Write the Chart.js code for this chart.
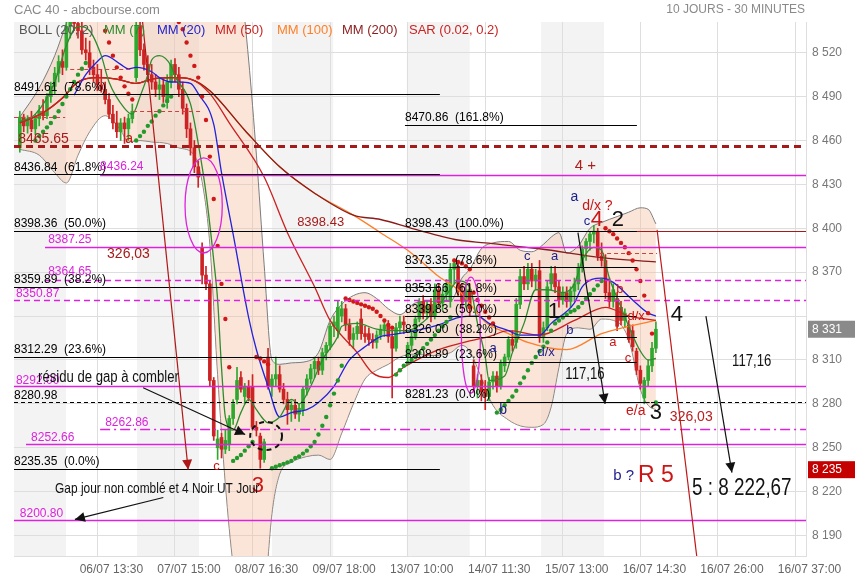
<!DOCTYPE html>
<html>
<head>
<meta charset="utf-8">
<script src="https://cdn.jsdelivr.net/npm/chart.js@4"></script>
<style>html,body{margin:0;padding:0;background:#fff}</style>
</head>
<body>
<canvas id="cac" width="855" height="580"></canvas>
<script>
Chart.defaults.font.family = "'Liberation Sans', Arial, sans-serif";
Chart.defaults.font.size = 12;
const SANS = "'Liberation Sans', Arial, sans-serif";

// axes
const xLabels = ['06/07 13:30','07/07 15:00','08/07 16:30','09/07 18:00','13/07 10:00','14/07 11:30','15/07 13:00','16/07 14:30','16/07 26:00','16/07 37:00'];
const xTickIdx = [20,40,60,80,100,120,140,160,180,200];
const priceTicks = [8190,8220,8250,8280,8310,8340,8370,8400,8430,8460,8490,8520];

// bougies 30 min (index 0..164)
const opens = [
 8455,8476,8470,8474,8468,8475,8480,8477,8490,8497, 8506,8514,8510,8538,8545,8540,8535,8522,8520,8510,
 8505,8498,8495,8488,8478,8472,8466,8472,8468,8475, 8503,8538,8522,8512,8505,8500,8495,8498,8486,8500,
 8512,8505,8495,8482,8468,8455,8442,8387,8368,8362, 8296,8250,8257,8249,8252,8270,8283,8298,8285,8292,
 8292,8264,8258,8242,8312,8292,8297,8300,8290,8283, 8276,8279,8273,8276,8290,8297,8304,8309,8303,8315,
 8320,8333,8330,8340,8345,8334,8324,8328,8338,8328, 8328,8324,8322,8327,8331,8334,8326,8318,8332,8336,
 8312,8320,8326,8338,8350,8342,8348,8340,8358,8349, 8355,8350,8372,8374,8357,8350,8358,8306,8292,8296,
 8290,8285,8295,8299,8292,8306,8312,8324,8322,8348, 8367,8362,8372,8364,8371,8326,8332,8362,8369,8360,
 8351,8356,8350,8357,8362,8373,8386,8391,8396,8398, 8381,8378,8356,8350,8352,8346,8337,8334,8330,8316,
 8303,8284,8296,8306,8318];
const highs = [
 8480,8478,8477,8480,8478,8484,8488,8492,8500,8510, 8518,8522,8545,8552,8556,8552,8545,8530,8528,8515,
 8512,8508,8500,8492,8484,8480,8475,8476,8478,8485, 8545,8545,8526,8518,8512,8505,8502,8503,8505,8515,
 8516,8510,8500,8485,8472,8460,8446,8390,8374,8364, 8298,8262,8260,8262,8272,8283,8305,8302,8294,8296,
 8300,8268,8260,8256,8318,8300,8312,8306,8294,8288, 8282,8283,8280,8292,8300,8307,8312,8312,8318,8322,
 8335,8340,8350,8350,8348,8338,8332,8336,8345,8333, 8332,8328,8330,8334,8336,8337,8330,8335,8340,8340,
 8322,8330,8340,8352,8354,8350,8352,8362,8362,8358, 8365,8376,8379,8376,8362,8362,8362,8310,8300,8300,
 8296,8298,8302,8302,8310,8314,8326,8330,8352,8372, 8374,8376,8376,8372,8378,8336,8364,8374,8374,8364,
 8360,8360,8360,8366,8376,8388,8393,8398,8402,8400, 8390,8382,8366,8362,8356,8350,8345,8337,8334,8318,
 8306,8298,8310,8322,8336];
const lows = [
 8452,8466,8465,8466,8464,8470,8474,8475,8486,8492, 8500,8505,8508,8530,8535,8530,8519,8515,8505,8500,
 8494,8493,8485,8475,8468,8462,8460,8458,8460,8472, 8500,8518,8508,8500,8495,8490,8488,8486,8482,8496,
 8500,8490,8478,8462,8450,8438,8428,8362,8358,8292, 8255,8242,8243,8246,8248,8266,8280,8288,8280,8282,
 8262,8258,8236,8240,8290,8285,8292,8288,8280,8266, 8268,8270,8268,8272,8286,8294,8298,8300,8300,8310,
 8317,8326,8325,8336,8330,8320,8318,8324,8324,8322, 8320,8318,8318,8324,8326,8322,8284,8316,8328,8328,
 8308,8316,8324,8336,8338,8338,8336,8338,8346,8344, 8350,8346,8362,8354,8346,8346,8340,8288,8284,8282,
 8276,8282,8290,8288,8290,8302,8310,8316,8318,8345, 8358,8358,8360,8358,8322,8322,8330,8358,8356,8346,
 8348,8346,8346,8350,8358,8370,8378,8385,8390,8378, 8374,8352,8346,8346,8330,8334,8332,8322,8316,8300,
 8290,8280,8292,8302,8315];
const closes = [
 8476,8470,8474,8468,8475,8480,8477,8490,8497,8506, 8514,8510,8538,8545,8540,8535,8522,8520,8510,8505,
 8498,8495,8488,8478,8472,8466,8472,8468,8475,8480, 8538,8522,8512,8505,8500,8495,8498,8490,8500,8512,
 8505,8495,8482,8468,8455,8442,8435,8368,8362,8296, 8258,8256,8249,8255,8270,8280,8296,8290,8292,8284,
 8264,8262,8242,8254,8292,8297,8300,8290,8283,8276, 8279,8273,8277,8290,8297,8304,8309,8303,8315,8320,
 8333,8336,8346,8345,8334,8324,8328,8333,8328,8326, 8324,8322,8327,8331,8334,8326,8318,8332,8336,8334,
 8320,8326,8338,8350,8342,8347,8340,8358,8349,8355, 8362,8372,8376,8357,8350,8358,8345,8292,8296,8288,
 8285,8295,8299,8292,8308,8312,8324,8320,8348,8367, 8362,8372,8364,8368,8326,8332,8360,8369,8360,8351,
 8356,8350,8357,8362,8373,8386,8391,8396,8398,8381, 8378,8356,8350,8358,8333,8337,8342,8324,8319,8303,
 8294,8296,8306,8318,8331];

// SAR (0.02, 0.2)
const sarValues = [
 null,null,null,null,
 8460,8463,8466,8469,8472,8476,8480,8485,8490,8495,8500,8505,8509,8513,
 8555,8552,8548,8543,8535,8527,8518,8510,8503,8497,8492,8488,
 8460,8463,8466,8470,8473,8477,8480,8484,8487,8490,
 8545,8541,8536,8527,8518,8511,8503,8490,8474,8449,8420,8388,8362,8338,8305,
 8241,8243,8245,8248,8251,8254,
 8312,8311,8309,8307,
 8236,8237,8238,8239,8240,8241,8243,8244,8246,8248,8251,8254,8259,8265,8271,8279,8287,8296,8306,
 8352,8351,8350,8349,8348,8347,8346,8345,8343,8340,8337,8334,8332,
 8300,8303,8306,8308,8310,8312,8315,8318,8321,8324,8327,8330,8333,8336,8339,
 8378,8377,8376,8374,8372,8356,8351,8347,8343,8339,8335,
 8274,8276,8279,8282,8285,8289,8294,8298,8303,8308,8312,8316,8319,8322,8330,8335,8337,8339,8341,8343,8344,8346,8349,8352,8355,8358,8361,8364,
 8400,8398,8396,8393,8390,8387,8383,8378,8372,8364,8354,8342,8328,
 8281];
const sarFlips = [[4,'g'],[18,'r'],[30,'g'],[40,'r'],[55,'g'],[61,'r'],[65,'g'],[84,'r'],[97,'g'],[112,'r'],[123,'g'],[151,'r'],[164,'g']];

// Bollinger (20, 2)
const bandIdx = [0,5,9,12,15,18,22,26,28,31,34,38,41,45,47,49,51,53,55,57,59,61,63,65,67,70,74,77,80,83,86,89,92,95,98,102,106,111,114,116,119,122,126,129,132,135,137,139,141,144,147,150,154,157,160,162,164];
const bollUpper = [8476,8496,8518,8540,8560,8570,8575,8575,8575,8580,8580,8580,8585,8590,8595,8600,8600,8595,8585,8565,8515,8450,8375,8310,8307,8308,8309,8315,8337,8348,8354,8356,8352,8345,8341,8349,8350,8350,8366,8372,8386,8390,8391,8385,8384,8389,8394,8397,8383,8388,8400,8404,8408,8411,8414,8413,8403];
const bollLower = [8454,8450,8438,8431,8450,8466,8477,8467,8459,8460,8459,8458,8455,8450,8432,8389,8300,8225,8170,8140,8125,8125,8145,8205,8232,8240,8244,8245,8242,8260,8280,8297,8303,8307,8312,8314,8313,8315,8320,8316,8298,8279,8269,8265,8264,8266,8278,8305,8328,8332,8331,8338,8336,8324,8290,8279,8276];

// moyennes mobiles
const mm7Idx = [0,4,9,12,15,18,21,23,27,29,31,33,34,36,39,40,44,46,48,50,51,52,53,55,57,59,61,63,64,67,70,72,75,78,82,83,87,92,95,100,104,108,111,113,116,118,120,121,125,127,130,133,136,140,143,145,148,150,152,155,157,160,162,164];
const mm7Val = [8473,8478,8500,8525,8538,8535,8518,8500,8482,8478,8490,8505,8515,8518,8511,8504,8485,8458,8424,8378,8351,8305,8271,8262,8274,8283,8276,8269,8267,8271,8283,8280,8292,8310,8326,8333,8335,8331,8330,8330,8336,8347,8358,8364,8360,8335,8312,8296,8299,8315,8335,8358,8358,8356,8362,8378,8387,8385,8366,8346,8333,8316,8310,8311];
const mm20Idx = [14,17,20,22,26,28,30,34,36,39,41,44,46,50,52,55,59,61,64,67,70,74,77,81,85,89,93,95,100,108,113,118,121,126,129,134,137,143,145,150,153,158,162,164];
const mm20Val = [8491,8505,8514,8518,8512,8509,8510,8507,8503,8500,8500,8499,8492,8471,8438,8396,8339,8317,8292,8271,8274,8276,8281,8292,8310,8319,8326,8327,8329,8334,8339,8340,8335,8330,8327,8327,8335,8349,8360,8366,8363,8351,8342,8340];
const mm50Idx = [0,6,11,15,20,25,30,34,40,44,49,54,63,69,76,80,87,91,95,99,108,116,121,126,134,143,151,157,164];
const mm50Val = [8472,8479,8489,8500,8503,8502,8499,8502,8503,8502,8492,8472,8435,8397,8360,8337,8315,8301,8298,8305,8317,8323,8326,8330,8327,8337,8346,8340,8337];
const mm100Idx = [0,6,11,15,20,25,30,34,40,44,49,58,67,76,86,93,101,108,113,120,126,131,141,150,157,164];
const mm100Val = [8472,8479,8489,8500,8503,8502,8499,8502,8503,8502,8494,8467,8442,8424,8409,8397,8383,8367,8358,8336,8328,8322,8317,8328,8333,8337];
const mm200Idx = [0,6,11,15,20,25,30,34,40,44,49,58,67,76,86,93,101,108,113,120,134,150,164];
const mm200Val = [8472,8479,8489,8500,8503,8502,8499,8502,8503,8502,8494,8467,8442,8424,8409,8406,8400,8395,8392,8390,8386,8380,8377];

// jours alternés (fond gris)
const dayBands = [[-1.5,11.9],[30.2,46.2],[65,80.8],[99.8,116],[134.4,150.6]];

const X0 = -1.5, X1 = 202.7;
const MAG = '#dd22dd', DRED = '#a51a1a', RED = '#cc1515', NAVY = '#1c1c8a';

// niveaux horizontaux : valeur, début, fin, couleur, épaisseur, tirets
const levelLines = [
 [8476, X0, 11.7, '#d04040', 1, [4,3]],
 [8509, 13, 29.2, '#d04040', 1, [4,3]],
 [8480, 29.2, 46.5, '#d04040', 1, [4,3]],
 [8383, 149.6, 164.3, '#d04040', 1, [4,3]],
 [8436.24, 20.7, X1, MAG, 1.3, []],
 [8387.25, 6.5, X1, MAG, 1.3, []],
 [8364.65, 6.5, X1, MAG, 1.3, [6,4]],
 [8350.87, X0, X1, MAG, 1.3, [6,4]],
 [8292.00, X0, X1, MAG, 1.3, []],
 [8262.86, 20.7, X1, MAG, 1.3, [10,4,2,4]],
 [8252.66, 1.6, X1, MAG, 1.3, []],
 [8200.80, X0, X1, MAG, 1.3, []],
 [8398.43, 69.7, X1, DRED, 1.2, []],
 [8456.5, X0, X1, DRED, 3, [7,5]],
 [8280.98, X0, X1, '#000', 1, [4,3]],
 [8491.61, X0, 108.3, '#000', 1, []],
 [8436.84, X0, 108.3, '#000', 1, []],
 [8398.36, X0, 108.3, '#000', 1, []],
 [8359.89, X0, 108.3, '#000', 1, []],
 [8312.29, X0, 108.3, '#000', 1, []],
 [8235.35, X0, 108.3, '#000', 1, []],
 [8470.86, 99.3, 159.1, '#000', 1, []],
 [8398.43, 99.3, 159.1, '#000', 1, []],
 [8373.35, 99.3, 159.1, '#000', 1, []],
 [8353.66, 99.3, 159.1, '#000', 1, []],
 [8339.83, 99.3, 159.1, '#000', 1, []],
 [8326.00, 99.3, 159.1, '#000', 1, []],
 [8308.89, 99.3, 159.1, '#000', 1, []],
 [8281.23, 99.3, 162.4, '#000', 1, []]
];
const fibLabels = [
 [8491.61, X0, '8491.61  (78.6%)'], [8436.84, X0, '8436.84  (61.8%)'], [8398.36, X0, '8398.36  (50.0%)'],
 [8359.89, X0, '8359.89  (38.2%)'], [8312.29, X0, '8312.29  (23.6%)'], [8280.98, X0, '8280.98'],
 [8235.35, X0, '8235.35  (0.0%)'],
 [8470.86, 99.3, '8470.86  (161.8%)'], [8398.43, 99.3, '8398.43  (100.0%)'], [8373.35, 99.3, '8373.35  (78.6%)'],
 [8353.66, 99.3, '8353.66  (61.8%)'], [8339.83, 99.3, '8339.83  (50.0%)'], [8326.00, 99.3, '8326.00  (38.2%)'],
 [8308.89, 99.3, '8308.89  (23.6%)'], [8281.23, 99.3, '8281.23  (0.0%)']
];
const magentaLabels = [
 ['8436.24', 20.7, 8442], ['8387.25', 7.3, 8392], ['8364.65', 7.3, 8370], ['8350.87', -1, 8355],
 ['8292.00', -1, 8296], ['8262.86', 22, 8267], ['8252.66', 2.9, 8257], ['8200.80', 0, 8205]
];
// texte, index, valeur, couleur, taille, étroit, alignement
const notes = [
 ['8465.65', -0.4, 8461, DRED, 14, false, 'left'],
 ['326,03', 22.5, 8382, DRED, 14, false, 'left'],
 ['326,03', 167.6, 8271, '#b82020', 14, false, 'left'],
 ['8398.43', 71.5, 8404, DRED, 13, false, 'left'],
 ['4 +', 143.1, 8443, '#b01c1c', 15, false, 'left'],
 ['a', 27.2, 8461, RED, 14, false, 'left'],
 ['c', 49.9, 8237, RED, 13, false, 'left'],
 ['3', 61.4, 8224, RED, 22, false, 'center'],
 ['a', 142, 8421, NAVY, 14, false, 'left'],
 ['d/x ?', 145, 8415, RED, 14, false, 'left'],
 ['c', 145.4, 8405, NAVY, 13, false, 'left'],
 ['4', 148.8, 8406, RED, 22, false, 'center'],
 ['2', 154.2, 8406, '#111', 22, false, 'center'],
 ['c', 130.8, 8381, NAVY, 13, false, 'center'],
 ['a', 137.9, 8381, NAVY, 13, false, 'center'],
 ['1', 137.7, 8343, '#111', 22, false, 'center'],
 ['b', 141.8, 8330, NAVY, 13, false, 'center'],
 ['d/x', 135.7, 8315, NAVY, 13, false, 'center'],
 ['a', 122, 8318, NAVY, 13, false, 'center'],
 ['b', 124.6, 8276, NAVY, 14, false, 'center'],
 ['b', 154.7, 8358, RED, 13, false, 'center'],
 ['d/x', 158.9, 8340, RED, 13, false, 'center'],
 ['a', 152.9, 8322, RED, 13, false, 'center'],
 ['c', 156.8, 8311, RED, 13, false, 'center'],
 ['e/a', 158.8, 8275, RED, 14, false, 'center'],
 ['3', 164, 8274, '#111', 22, false, 'center'],
 ['117,16', 145.7, 8300, '#111', 16, true, 'center'],
 ['117,16', 188.7, 8309, '#111', 16, true, 'center'],
 ['4', 169.4, 8341, '#111', 22, false, 'center'],
 ['b ?', 153, 8231, NAVY, 15, false, 'left'],
 ['R 5', 159.4, 8231, RED, 23, false, 'left'],
 ['5 : 8 222,67', 173.3, 8222, '#111', 23, true, 'left'],
 ['résidu de gap à combler', 4.7, 8298, '#111', 16, true, 'left'],
 ['Gap jour non comblé et 4 Noir UT Jour', 9.1, 8222, '#111', 14.5, true, 'left']
];
// flèches : de (index, valeur) vers (index, valeur), couleur, pointe
const arrows = [
 [31.8, 8291, 58.1, 8259, '#111', true],
 [37, 8216, 14.2, 8201, '#111', true],
 [31.5, 8545, 43.4, 8235, '#b01818', true],
 [143.9, 8397, 150.9, 8280, '#111', true],
 [176.9, 8340, 183.6, 8233, '#111', true],
 [164.3, 8399, 174.8, 8170, '#c01818', false]
];
// ellipses : centre index, valeur, rayon index, rayon valeur, couleur, tirets
const ellipses = [
 [47.4, 8415.6, 4.8, 32.5, MAG, []],
 [116.3, 8327, 2.45, 39.6, MAG, []],
 [63.5, 8258, 4.1, 9.6, '#111', [5,4]]
];

const idx = opens.map((_, i) => i);
const candleColor = idx.map(i => closes[i] >= opens[i] ? '#2fa82f' : '#cc2424');
const sideOf = i => { let s = null; sarFlips.forEach(([k, c]) => { if (i >= k) s = c; }); return s; };
const sarGreen = idx.filter(i => sarValues[i] !== null && sideOf(i) === 'g').map(i => ({x: i, y: sarValues[i]}));
const sarRed = idx.filter(i => sarValues[i] !== null && sideOf(i) === 'r').map(i => ({x: i, y: sarValues[i]}));
const pts = (xs, ys) => xs.map((x, k) => ({x, y: ys[k]}));
const maLine = (label, xs, ys, color, order) => ({
  type: 'line', label, data: pts(xs, ys), borderColor: color, borderWidth: 1.3,
  pointRadius: 0, tension: 0.3, cubicInterpolationMode: 'monotone', fill: false, order
});

function arrowHead(ctx, x1, y1, x2, y2) {
  const a = Math.atan2(y2 - y1, x2 - x1), L = 10, W = 5;
  ctx.beginPath();
  ctx.moveTo(x2, y2);
  ctx.lineTo(x2 - L * Math.cos(a) + W * Math.sin(a), y2 - L * Math.sin(a) - W * Math.cos(a));
  ctx.lineTo(x2 - L * Math.cos(a) - W * Math.sin(a), y2 - L * Math.sin(a) + W * Math.cos(a));
  ctx.closePath();
  ctx.fill();
}

const overlay = {
  id: 'overlay',
  beforeDraw(chart) {
    const {ctx, chartArea: a, scales: {x}} = chart;
    ctx.save();
    ctx.fillStyle = '#f3f3f3';
    dayBands.forEach(([s, e]) => {
      const x1 = Math.max(a.left, x.getPixelForValue(s));
      const x2 = Math.min(a.right, x.getPixelForValue(e));
      ctx.fillRect(x1, a.top, x2 - x1, a.bottom - a.top);
    });
    ctx.restore();
  },
  afterDatasetsDraw(chart) {
    const {ctx, chartArea: a, scales: {x, y}} = chart;
    ctx.save();
    ctx.beginPath();
    ctx.rect(a.left, a.top, a.right - a.left, a.bottom - a.top);
    ctx.clip();
    levelLines.forEach(([v, f, t, c, w, d]) => {
      const yy = Math.round(y.getPixelForValue(v)) + 0.5;
      ctx.strokeStyle = c; ctx.lineWidth = w; ctx.setLineDash(d);
      ctx.beginPath();
      ctx.moveTo(x.getPixelForValue(f), yy);
      ctx.lineTo(x.getPixelForValue(t), yy);
      ctx.stroke();
    });
    ctx.setLineDash([]);
    ellipses.forEach(([ci, cv, ri, rv, c, d]) => {
      const cx = x.getPixelForValue(ci), cy = y.getPixelForValue(cv);
      const rx = x.getPixelForValue(ci + ri) - cx, ry = cy - y.getPixelForValue(cv + rv);
      ctx.strokeStyle = c; ctx.lineWidth = d.length ? 2 : 1.3; ctx.setLineDash(d);
      ctx.beginPath(); ctx.ellipse(cx, cy, rx, ry, 0, 0, Math.PI * 2); ctx.stroke();
    });
    ctx.setLineDash([]);
    arrows.forEach(([i1, v1, i2, v2, c, head]) => {
      const x1 = x.getPixelForValue(i1), y1 = y.getPixelForValue(v1);
      const x2 = x.getPixelForValue(i2), y2 = y.getPixelForValue(v2);
      ctx.strokeStyle = c; ctx.fillStyle = c; ctx.lineWidth = 1.2;
      ctx.beginPath(); ctx.moveTo(x1, y1); ctx.lineTo(x2, y2); ctx.stroke();
      if (head) arrowHead(ctx, x1, y1, x2, y2);
    });
    ctx.restore();

    ctx.save();
    ctx.textBaseline = 'bottom';
    ctx.textAlign = 'left';
    ctx.font = '12px ' + SANS;
    ctx.fillStyle = '#000';
    fibLabels.forEach(([v, f, t]) => {
      ctx.fillText(t, Math.max(a.left, x.getPixelForValue(f)), y.getPixelForValue(v) - 1);
    });
    ctx.textBaseline = 'middle';
    ctx.fillStyle = MAG;
    magentaLabels.forEach(([t, i, v]) => ctx.fillText(t, x.getPixelForValue(i), y.getPixelForValue(v)));
    notes.forEach(([t, i, v, c, s, narrow, al]) => {
      ctx.save();
      ctx.font = s + 'px ' + SANS;
      ctx.fillStyle = c; ctx.textAlign = al;
      ctx.translate(x.getPixelForValue(i), y.getPixelForValue(v));
      if (narrow) ctx.scale(0.82, 1);
      ctx.fillText(t, 0, 0);
      ctx.restore();
    });
    ctx.restore();
  },
  afterDraw(chart) {
    const {ctx, chartArea: a, scales: {y}} = chart;
    ctx.save();
    ctx.textBaseline = 'middle';
    ctx.font = '13px ' + SANS;
    ctx.fillStyle = '#8a8a8a';
    ctx.textAlign = 'left';
    ctx.fillText('CAC 40 - abcbourse.com', 14, 10);
    ctx.font = '12px ' + SANS;
    ctx.textAlign = 'right';
    ctx.fillText('10 JOURS - 30 MINUTES', 805, 10);
    ctx.textAlign = 'left';
    ctx.font = '13px ' + SANS;
    [['BOLL (20, 2)', '#555', 19], ['MM (7)', '#2e8b2e', 104], ['MM (20)', '#2222cc', 157],
     ['MM (50)', '#cc2222', 215], ['MM (100)', '#ff7f27', 277], ['MM (200)', '#8b1c1c', 342],
     ['SAR (0.02, 0.2)', '#cc2222', 409]].forEach(([t, c, px]) => {
      ctx.fillStyle = c; ctx.fillText(t, px, a.top + 8);
    });
    [[8331, '#8a8a8a'], [8235, '#c40000']].forEach(([v, bg]) => {
      const yy = y.getPixelForValue(v);
      ctx.fillStyle = bg;
      ctx.fillRect(a.right + 2, yy - 8.5, 855 - a.right - 2, 17);
      ctx.fillStyle = '#fff';
      ctx.font = '12px ' + SANS;
      ctx.fillText(String(v).replace(/\B(?=(\d{3})+(?!\d))/g, ' '), a.right + 6, yy);
    });
    ctx.restore();
  }
};

new Chart(document.getElementById('cac'), {
  type: 'bar',
  data: {
    datasets: [
      {type: 'line', label: 'SAR haut', data: sarGreen, showLine: false, pointRadius: 2.2,
       pointBackgroundColor: '#23992b', pointBorderWidth: 0, order: 0},
      {type: 'line', label: 'SAR bas', data: sarRed, showLine: false, pointRadius: 2.2,
       pointBackgroundColor: '#d01818', pointBorderWidth: 0, order: 0},
      maLine('MM (7)', mm7Idx, mm7Val, '#2e8b2e', 1),
      maLine('MM (20)', mm20Idx, mm20Val, '#2222dd', 1),
      maLine('MM (50)', mm50Idx, mm50Val, '#cc2020', 2),
      maLine('MM (200)', mm200Idx, mm200Val, '#8b1c1c', 2),
      maLine('MM (100)', mm100Idx, mm100Val, '#ff7f27', 3),
      {type: 'bar', label: 'corps', data: idx.map(i => ({x: i, y: [opens[i], closes[i]]})),
       backgroundColor: candleColor, barThickness: 3, minBarLength: 1, grouped: false, order: 4},
      {type: 'bar', label: 'mèches', data: idx.map(i => ({x: i, y: [lows[i], highs[i]]})),
       backgroundColor: candleColor, barThickness: 1, grouped: false, order: 5},
      {type: 'line', label: 'BOLL haut', data: pts(bandIdx, bollUpper), borderColor: '#7c7c7c', borderWidth: 1,
       pointRadius: 0, tension: 0.3, cubicInterpolationMode: 'monotone',
       fill: '+1', backgroundColor: 'rgba(245,190,160,0.4)', order: 6},
      {type: 'line', label: 'BOLL bas', data: pts(bandIdx, bollLower), borderColor: '#7c7c7c', borderWidth: 1,
       pointRadius: 0, tension: 0.3, cubicInterpolationMode: 'monotone', fill: false, order: 7}
    ]
  },
  options: {
    responsive: false,
    animation: false,
    layout: {padding: {left: 14, top: 22, right: 0, bottom: 0}},
    plugins: {legend: {display: false}, tooltip: {enabled: false}},
    scales: {
      x: {
        type: 'linear', min: X0, max: X1, offset: false,
        grid: {color: '#dedede', drawTicks: false, offset: false},
        border: {color: '#dedede'},
        ticks: {
          autoSkip: false, maxRotation: 0, color: '#666', padding: 6, labelOffset: 14,
          callback: v => { const k = xTickIdx.indexOf(v); return k >= 0 ? xLabels[k] : ''; }
        },
        afterBuildTicks: s => { s.ticks = xTickIdx.map(v => ({value: v})); },
        afterFit: s => { s.height = 24; s.paddingLeft = 0; s.paddingRight = 0; }
      },
      y: {
        type: 'linear', position: 'right', min: 8176, max: 8541,
        grid: {color: '#dedede', drawTicks: false},
        border: {color: '#dedede'},
        ticks: {
          color: '#777', padding: 6,
          callback: v => v === 8340 ? '' : String(v).replace(/\B(?=(\d{3})+(?!\d))/g, ' ')
        },
        afterBuildTicks: s => { s.ticks = priceTicks.map(v => ({value: v})); },
        afterFit: s => { s.width = 49; }
      }
    }
  },
  plugins: [overlay]
});
</script>
</body>
</html>
